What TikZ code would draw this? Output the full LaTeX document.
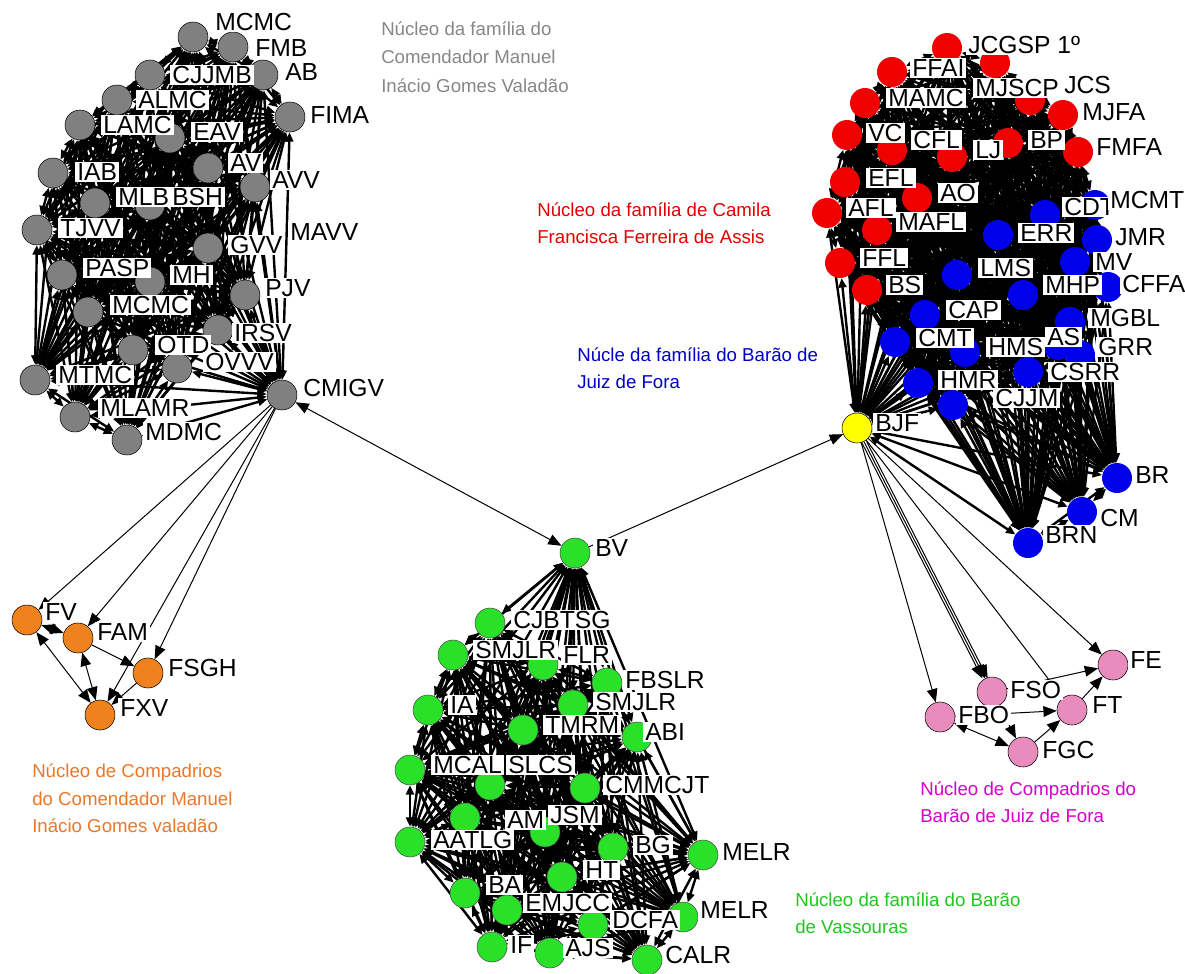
\documentclass[tikz,border=0pt]{standalone}
\usepackage{fontspec}
\setmainfont{Liberation Sans}
\usetikzlibrary{arrows.meta}
\pgfdeclarelayer{bgl}
\pgfdeclarelayer{edges}
\pgfdeclarelayer{labels}
\pgfsetlayers{bgl,edges,main,labels}
\definecolor{cgray}{RGB}{128,128,128}
\definecolor{cred}{RGB}{240,0,0}
\definecolor{cblue}{RGB}{0,0,235}
\definecolor{cgreen}{RGB}{40,225,40}
\definecolor{corange}{RGB}{240,130,30}
\definecolor{cpink}{RGB}{232,140,190}
\definecolor{cyellow}{RGB}{255,255,0}
\definecolor{tgray}{RGB}{135,135,135}
\definecolor{tred}{RGB}{225,0,0}
\definecolor{tblue}{RGB}{0,0,200}
\definecolor{tgreen}{RGB}{30,200,30}
\definecolor{torange}{RGB}{235,120,40}
\definecolor{tpink}{RGB}{215,0,205}
\tikzset{
 vx/.style={circle,inner sep=0pt,minimum size=22.5pt},
 gvx/.style={vx,fill=cgray,draw=black,line width=0.4pt},
 rvx/.style={vx,fill=cred},
 bvx/.style={vx,fill=cblue},
 vvx/.style={vx,fill=cgreen,draw=black!70,line width=0.4pt},
 ovx/.style={vx,fill=corange,draw=black,line width=0.4pt},
 pvx/.style={vx,fill=cpink,draw=black,line width=0.4pt},
 yvx/.style={vx,fill=cyellow,draw=black,line width=0.4pt},
 lab/.style={fill=white,anchor=west,inner xsep=1.5pt,inner ysep=1pt,text height=13.3pt,text depth=0.3pt,font=\fontsize{18.5}{20}\selectfont},
 e/.style={draw=black,line width=0.75pt,-{Triangle[length=10pt,width=8pt]}},
 ee/.style={draw=black,line width=0.75pt,{Triangle[length=10pt,width=8pt]}-{Triangle[length=10pt,width=8pt]}},
 ce/.style={draw=black,line width=1.8pt,{Triangle[length=7pt,width=6pt]}-{Triangle[length=7pt,width=6pt]}},
 ann/.style={anchor=base west,inner sep=0pt,font=\fontsize{14}{17}\selectfont},
}
\newcommand{\vtx}[7]{\node[#4] (#1) at (#2,#3) {};
\begin{pgfonlayer}{labels}\node[lab] (#1l) at (#6,#7) {#5};\end{pgfonlayer}}
\begin{document}
\begin{tikzpicture}[x=0.75pt,y=-0.75pt]
\useasboundingbox (0,0) rectangle (1185,974);
\begin{pgfonlayer}{bgl}
\fill[white] (0,0) rectangle (1185,974);
\end{pgfonlayer}
% gray cluster
\vtx{g1}{193}{37}{gvx}{MCMC}{213}{22}
\vtx{g2}{233}{47}{gvx}{FMB}{253}{48}
\vtx{g3}{150}{75}{gvx}{CJJMB}{170}{75}
\vtx{g4}{263}{75}{gvx}{AB}{283}{72}
\vtx{g5}{117}{100}{gvx}{ALMC}{136}{100}
\vtx{g6}{290}{117}{gvx}{FIMA}{308}{115}
\vtx{g7}{80}{125}{gvx}{LAMC}{101}{125}
\vtx{g8}{170}{138}{gvx}{EAV}{191}{132}
\vtx{g9}{53}{173}{gvx}{IAB}{75}{172}
\vtx{g10}{208}{168}{gvx}{AV}{228}{163}
\vtx{g11}{255}{187}{gvx}{AVV}{270}{180}
\vtx{g12}{95}{203}{gvx}{MLB}{116}{197}
\vtx{g13}{150}{205}{gvx}{BSH}{170}{197}
\vtx{g14}{37}{230}{gvx}{TJVV}{58}{228}
\vtx{g15}{208}{248}{gvx}{GVV}{228}{245}
\vtx{g16}{62}{275}{gvx}{PASP}{83}{268}
\vtx{g17}{150}{282}{gvx}{MH}{170}{275}
\vtx{g18}{245}{295}{gvx}{PJV}{263}{288}
\vtx{g19}{88}{312}{gvx}{MCMC}{110}{305}
\vtx{g20}{218}{330}{gvx}{IRSV}{232}{333}
\vtx{g21}{133}{350}{gvx}{OTD}{155}{345}
\vtx{g22}{177}{368}{gvx}{OVVV}{203}{362}
\vtx{g23}{35}{380}{gvx}{MTMC}{56}{375}
\vtx{g24}{282}{395}{gvx}{CMIGV}{301}{388}
\vtx{g25}{75}{417}{gvx}{MLAMR}{98}{408}
\vtx{g26}{127}{440}{gvx}{MDMC}{143}{432}
\begin{pgfonlayer}{labels}
\node[lab] (mavv) at (288,232) {MAVV};
\end{pgfonlayer}
% red and blue cluster
\vtx{k1}{947}{48}{rvx}{JCGSP 1º}{966}{45}
\vtx{k2}{892}{72}{rvx}{FFAI}{910}{68}
\vtx{k3}{995}{63}{rvx}{MJSCP}{973}{88}
\vtx{k4}{1030}{100}{rvx}{JCS}{1062}{85}
\vtx{k5}{865}{103}{rvx}{MAMC}{886}{98}
\vtx{k6}{1063}{115}{rvx}{MJFA}{1080}{112}
\vtx{k7}{847}{135}{rvx}{VC}{866}{133}
\vtx{k8}{892}{150}{rvx}{CFL}{911}{140}
\vtx{k9}{952}{157}{rvx}{LJ}{973}{150}
\vtx{k10}{1008}{143}{rvx}{BP}{1028}{140}
\vtx{k11}{1078}{152}{rvx}{FMFA}{1094}{147}
\vtx{k12}{845}{182}{rvx}{EFL}{866}{178}
\vtx{k13}{917}{198}{rvx}{AO}{938}{193}
\vtx{k14}{827}{213}{rvx}{AFL}{846}{208}
\vtx{k15}{877}{230}{rvx}{MAFL}{896}{222}
\vtx{k16}{840}{263}{rvx}{FFL}{860}{258}
\vtx{k17}{867}{290}{rvx}{BS}{886}{285}
\vtx{k18}{998}{235}{bvx}{ERR}{1018}{233}
\vtx{k19}{1045}{215}{bvx}{CDT}{1062}{207}
\vtx{k20}{1095}{205}{bvx}{MCMT}{1108}{200}
\vtx{k21}{1097}{240}{bvx}{JMR}{1113}{237}
\vtx{k22}{957}{275}{bvx}{LMS}{978}{268}
\vtx{k23}{1075}{262}{bvx}{MV}{1093}{262}
\vtx{k24}{1108}{287}{bvx}{CFFA}{1120}{284}
\vtx{k25}{1023}{295}{bvx}{MHP}{1043}{285}
\vtx{k26}{925}{315}{bvx}{CAP}{946}{310}
\vtx{k27}{1070}{322}{bvx}{MGBL}{1088}{318}
\vtx{k28}{895}{342}{bvx}{CMT}{916}{338}
\vtx{k29}{965}{352}{bvx}{HMS}{986}{347}
\vtx{k30}{1058}{345}{bvx}{AS}{1045}{337}
\vtx{k31}{1080}{355}{bvx}{GRR}{1096}{347}
\vtx{k32}{1028}{372}{bvx}{CSRR}{1048}{372}
\vtx{k33}{918}{383}{bvx}{HMR}{938}{380}
\vtx{k34}{953}{405}{bvx}{CJJM}{993}{398}
\vtx{k35}{1117}{478}{bvx}{BR}{1133}{475}
\vtx{k36}{1082}{512}{bvx}{CM}{1098}{518}
\vtx{k37}{1028}{543}{bvx}{BRN}{1043}{535}
\vtx{k38}{857}{428}{yvx}{BJF}{873}{423}
% green cluster
\vtx{v1}{575}{553}{vvx}{BV}{593}{548}
\vtx{v2}{490}{623}{vvx}{CJBTSG}{511}{620}
\vtx{v3}{453}{655}{vvx}{SMJLR}{473}{650}
\vtx{v4}{543}{665}{vvx}{FLR}{561}{655}
\vtx{v5}{607}{683}{vvx}{FBSLR}{623}{680}
\vtx{v6}{573}{705}{vvx}{SMJLR}{593}{702}
\vtx{v7}{428}{710}{vvx}{IA}{448}{705}
\vtx{v8}{523}{730}{vvx}{TMRM}{543}{725}
\vtx{v9}{637}{737}{vvx}{ABI}{643}{732}
\vtx{v10}{410}{770}{vvx}{MCAL}{431}{765}
\vtx{v11}{490}{785}{vvx}{SLCS}{506}{765}
\vtx{v12}{585}{788}{vvx}{CMMCJT}{603}{785}
\vtx{v13}{465}{818}{vvx}{AM}{505}{820}
\vtx{v14}{545}{832}{vvx}{JSM}{548}{815}
\vtx{v15}{410}{842}{vvx}{AATLG}{431}{840}
\vtx{v16}{613}{848}{vvx}{BG}{633}{845}
\vtx{v17}{703}{855}{vvx}{MELR}{720}{852}
\vtx{v18}{562}{877}{vvx}{HT}{583}{870}
\vtx{v19}{465}{893}{vvx}{BA}{486}{885}
\vtx{v20}{507}{910}{vvx}{EMJCC}{523}{903}
\vtx{v21}{683}{917}{vvx}{MELR}{698}{910}
\vtx{v22}{593}{925}{vvx}{DCFA}{610}{920}
\vtx{v23}{492}{947}{vvx}{IF}{508}{945}
\vtx{v24}{550}{953}{vvx}{AJS}{563}{948}
\vtx{v25}{647}{960}{vvx}{CALR}{663}{955}
% orange
\vtx{o1}{27}{620}{ovx}{FV}{43}{612}
\vtx{o2}{78}{638}{ovx}{FAM}{95}{632}
\vtx{o3}{148}{673}{ovx}{FSGH}{166}{668}
\vtx{o4}{100}{715}{ovx}{FXV}{118}{708}
% pink
\vtx{p1}{1113}{665}{pvx}{FE}{1128}{660}
\vtx{p2}{992}{692}{pvx}{FSO}{1008}{690}
\vtx{p3}{1072}{710}{pvx}{FT}{1090}{705}
\vtx{p4}{940}{717}{pvx}{FBO}{956}{715}
\vtx{p5}{1023}{752}{pvx}{FGC}{1040}{750}
% edges
\begin{pgfonlayer}{edges}
\foreach \i in {1,...,26}{\foreach \j in {1,...,26}{\ifnum\j>\i\relax\draw[ce] (g\i) -- (g\j);\fi}}
\foreach \i in {1,...,38}{\foreach \j in {1,...,38}{\ifnum\j>\i\relax\draw[ce] (k\i) -- (k\j);\fi}}
\foreach \i in {1,...,25}{\foreach \j in {1,...,25}{\ifnum\j>\i\relax\draw[ce] (v\j) -- (v\i);\fi}}
\draw[ee] (g24) -- (v1);
\draw[e] (v1) -- (k38);
\draw[e] (g24) -- (o1);
\draw[e] (g24) -- (o2);
\draw[e] (g24) -- (o4);
\draw[e] (g24) -- (o3);
\draw[ee] (o1) -- (o2);
\draw[ee] (o1) -- (o4);
\draw[e] (o2) -- (o3);
\draw[ee] (o2) -- (o4);
\draw[e] (o3) -- (o4);
\draw[e] (k38) -- (p4);
\draw[e] (k38) -- (p2);
\draw[e,transform canvas={xshift=2pt}] (k38) -- (p2);
\draw[e,transform canvas={xshift=-2pt}] (k38) -- (p2);
\draw[e] (k38) -- (p3);
\draw[e] (k38) -- (p1);
\draw[e] (p4) -- (p3);
\draw[ee] (p4) -- (p5);
\draw[e] (p2) -- (p1);
\draw[e] (p3) -- (p1);
\draw[e] (p5) -- (p3);
\draw[e] (p2) -- (p5);
\end{pgfonlayer}
% annotations
\node[ann,text=tgray] (a1) at (381,36) {Núcleo da família do};
\node[ann,text=tgray] (a2) at (381,64) {Comendador Manuel};
\node[ann,text=tgray] (a3) at (381,93) {Inácio Gomes Valadão};
\node[ann,text=tred] (a4) at (537,216) {Núcleo da família de Camila};
\node[ann,text=tred] (a5) at (537,243) {Francisca Ferreira de Assis};
\node[ann,text=tblue] (a6) at (577,361) {Núcle da família do Barão de};
\node[ann,text=tblue] (a7) at (577,388) {Juiz de Fora};
\node[ann,text=tgreen] (a8) at (795,906) {Núcleo da família do Barão};
\node[ann,text=tgreen] (a9) at (795,933) {de Vassouras};
\node[ann,text=torange] (a10) at (32,777) {Núcleo de Compadrios};
\node[ann,text=torange] (a11) at (32,805) {do Comendador Manuel};
\node[ann,text=torange] (a12) at (32,832) {Inácio Gomes valadão};
\node[ann,text=tpink] (a13) at (920,795) {Núcleo de Compadrios do};
\node[ann,text=tpink] (a14) at (920,822) {Barão de Juiz de Fora};
\end{tikzpicture}
\end{document}
